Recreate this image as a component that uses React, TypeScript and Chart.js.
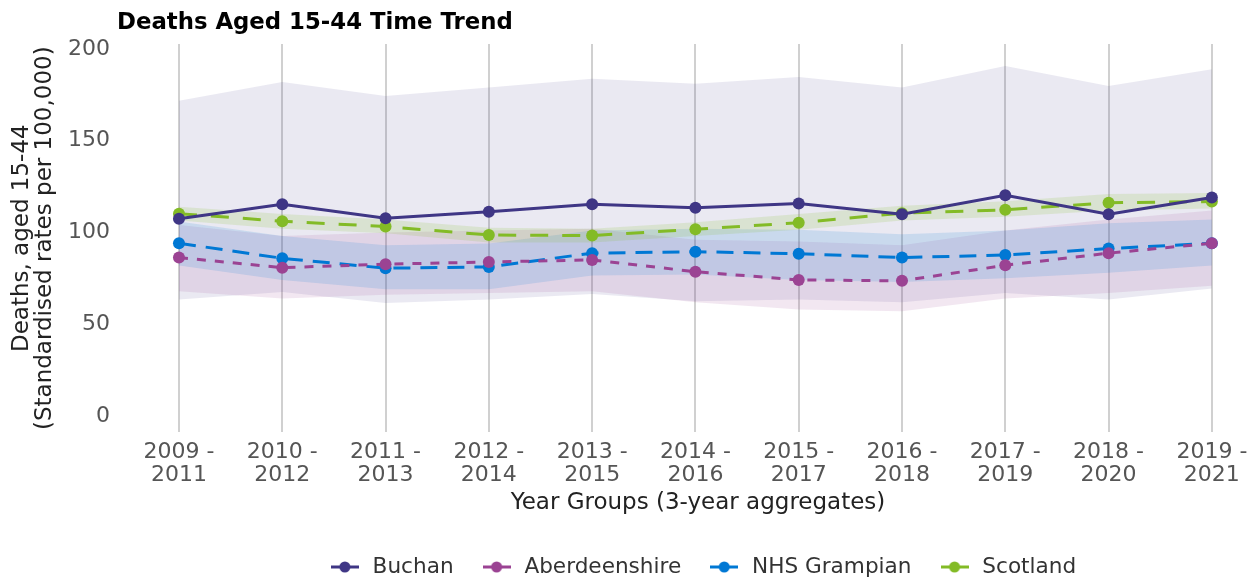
import React, { useEffect, useRef } from "react";
import { Chart, registerables } from "chart.js";

Chart.register(...registerables);

const chartTitle = "Deaths Aged 15-44 Time Trend";
const xTitle = "Year Groups (3-year aggregates)";
const yTitle = ["Deaths, aged 15-44", "(Standardised rates per 100,000)"];

const categories = [
  "2009 - 2011", "2010 - 2012", "2011 - 2013", "2012 - 2014", "2013 - 2015", "2014 - 2016",
  "2015 - 2017", "2016 - 2018", "2017 - 2019", "2018 - 2020", "2019 - 2021",
];

const yTicks = [0, 50, 100, 150, 200];

const buchan = [107.4, 115.4, 107.7, 111.3, 115.4, 113.5, 115.7, 109.9, 120.3, 109.9, 119.0];
const buchanUpper = [171.7, 182.0, 174.4, 179.0, 183.7, 181.0, 184.7, 179.0, 190.7, 179.8, 189.0];
const buchanLower = [63.5, 67.5, 61.5, 63.5, 66.5, 62.5, 63.5, 62.0, 67.0, 63.5, 69.5];

const aberdeenshire = [86.3, 80.8, 82.7, 83.9, 85.0, 78.6, 74.1, 73.6, 82.1, 88.7, 94.1];
const aberdeenshireUpper = [104, 98, 100, 101, 102, 96, 95, 93, 101, 107, 112];
const aberdeenshireLower = [68, 64, 66, 67, 68, 62, 58, 57, 64, 67, 71];

const nhsGrampian = [94.1, 85.9, 80.5, 81.2, 88.7, 89.5, 88.4, 86.3, 87.7, 91.2, 94.1];
const nhsGrampianUpper = [106, 98, 93, 94, 101, 102, 101.5, 99, 101, 105, 107];
const nhsGrampianLower = [82, 74, 69, 69, 76.5, 77, 74, 73, 75, 78, 82];

const scotland = [110.2, 106.1, 103.2, 98.6, 98.3, 101.7, 105.3, 110.5, 112.3, 116.2, 116.8];
const scotlandUpper = [114, 110, 107, 102.5, 102, 105.5, 110, 114.5, 117, 121, 121.5];
const scotlandLower = [106.5, 102, 99.5, 94.5, 94.5, 98, 101.5, 106.5, 108.5, 112, 113];

const seriesNames = ["Buchan", "Aberdeenshire", "NHS Grampian", "Scotland"];
const seriesColors = ["#3F3685", "#9B4393", "#0078D4", "#83BB26"];
const bandColors = [
  "rgba(63,54,133,0.11)",
  "rgba(155,67,147,0.13)",
  "rgba(0,120,212,0.14)",
  "rgba(131,187,38,0.16)",
];
const seriesDashes: number[][] = [[], [9, 9], [17, 10], [18, 14]];

const FONT = '"DejaVu Sans", sans-serif';

function toPoints(values: number[]) {
  return values.map((y, i) => ({ x: i, y }));
}

function makeMarker(color: string) {
  const c = document.createElement("canvas");
  c.width = 28;
  c.height = 14;
  const g = c.getContext("2d")!;
  g.strokeStyle = color;
  g.lineWidth = 3;
  g.beginPath();
  g.moveTo(0, 7);
  g.lineTo(28, 7);
  g.stroke();
  g.fillStyle = color;
  g.beginPath();
  g.arc(14, 7, 5.5, 0, Math.PI * 2);
  g.fill();
  return c;
}

export default function App() {
  const canvasRef = useRef<HTMLCanvasElement | null>(null);

  useEffect(() => {
    if (!canvasRef.current) return;
    Chart.defaults.font.family = FONT;

    const lines = [buchan, aberdeenshire, nhsGrampian, scotland];
    const uppers = [buchanUpper, aberdeenshireUpper, nhsGrampianUpper, scotlandUpper];
    const lowers = [buchanLower, aberdeenshireLower, nhsGrampianLower, scotlandLower];

    const lineSets = lines.map((vals, i) => ({
      label: seriesNames[i],
      data: toPoints(vals),
      borderColor: seriesColors[i],
      backgroundColor: seriesColors[i],
      borderWidth: 3,
      borderDash: seriesDashes[i],
      pointRadius: 6,
      pointHoverRadius: 6,
      pointBackgroundColor: seriesColors[i],
      pointBorderWidth: 0,
      fill: false,
      tension: 0,
    }));

    const bandSets: any[] = [];
    for (let i = 3; i >= 0; i--) {
      bandSets.push({
        label: seriesNames[i] + " upper",
        data: toPoints(uppers[i]),
        borderWidth: 0,
        borderColor: "rgba(0,0,0,0)",
        backgroundColor: bandColors[i],
        pointRadius: 0,
        pointHoverRadius: 0,
        fill: "+1",
        tension: 0,
      });
      bandSets.push({
        label: seriesNames[i] + " lower",
        data: toPoints(lowers[i]),
        borderWidth: 0,
        borderColor: "rgba(0,0,0,0)",
        backgroundColor: bandColors[i],
        pointRadius: 0,
        pointHoverRadius: 0,
        fill: false,
        tension: 0,
      });
    }

    const markers = seriesColors.map((c) => makeMarker(c));

    const titlePlugin = {
      id: "topTitle",
      afterDraw(chart: any) {
        const ctx = chart.ctx;
        ctx.save();
        ctx.font = `bold 22.8px ${FONT}`;
        ctx.fillStyle = "#000";
        ctx.textBaseline = "alphabetic";
        ctx.textAlign = "left";
        ctx.fillText(chartTitle, chart.chartArea.left, 29);
        ctx.restore();
      },
    };

    const legendPlacer = {
      id: "legendPlacer",
      afterLayout(chart: any) {
        const lg = chart.legend;
        if (!lg) return;
        const w = lg.right - lg.left;
        const h = lg.bottom - lg.top;
        const center = 702;
        lg.left = center - w / 2;
        lg.right = center + w / 2;
        lg.top = 567 - 10.8 - 26;
        lg.bottom = lg.top + h;
      },
    };

    const chart = new Chart(canvasRef.current, {
      type: "line",
      data: { datasets: [...lineSets, ...bandSets] as any },
      options: {
        responsive: false,
        animation: false,
        devicePixelRatio: 1,
        layout: { padding: { top: 44, right: 21, bottom: 4, left: 0 } },
        interaction: { mode: "nearest", intersect: true },
        scales: {
          x: {
            type: "linear",
            min: -0.6,
            max: 10.65,
            afterBuildTicks: (s: any) => {
              s.ticks = categories.map((_, i) => ({ value: i }));
            },
            afterFit: (s: any) => {
              s.height = 84;
            },
            ticks: {
              autoSkip: false,
              maxRotation: 0,
              padding: 8.5,
              color: "#555",
              font: { size: 22, family: FONT, lineHeight: 1.05 },
              callback: (v: any) => {
                const c = categories[Number(v)];
                if (!c) return "";
                const parts = c.split(" - ");
                return [parts[0] + " -", parts[1]];
              },
            },
            grid: { color: "#d0d0d0", lineWidth: 2, drawTicks: false },
            border: { display: false },
            title: {
              display: true,
              text: xTitle,
              color: "#222",
              font: { size: 23, family: FONT },
              padding: { top: 0, bottom: 0 },
            },
          },
          y: {
            min: -9,
            max: 202.7,
            afterBuildTicks: (s: any) => {
              s.ticks = yTicks.map((v) => ({ value: v }));
            },
            afterFit: (s: any) => {
              s.width = 117;
            },
            ticks: { padding: 7, color: "#555", font: { size: 22, family: FONT } },
            grid: { display: false, drawTicks: false },
            border: { display: false },
            title: {
              display: true,
              text: yTitle,
              color: "#222",
              font: { size: 23, family: FONT, lineHeight: 1.0 },
              padding: { top: 10.5, bottom: 0 },
            },
          },
        },
        plugins: {
          title: { display: false },
          tooltip: { enabled: false },
          legend: {
            display: true,
            position: "bottom",
            labels: {
              usePointStyle: true,
              pointStyleWidth: 34,
              padding: 26,
              color: "#333",
              font: { size: 21.6, family: FONT },
              generateLabels: () =>
                seriesNames.map((name, i) => ({
                  text: name,
                  fillStyle: seriesColors[i],
                  strokeStyle: seriesColors[i],
                  lineWidth: 0,
                  pointStyle: markers[i],
                  hidden: false,
                  datasetIndex: i,
                  fontColor: "#333",
                })) as any,
            },
          },
        },
      },
      plugins: [titlePlugin, legendPlacer],
    } as any);

    return () => chart.destroy();
  }, []);

  return (
    <div style={{ position: "fixed", left: 0, top: 0, width: 1249, height: 578, overflow: "hidden", background: "#fff" }}>
      <canvas ref={canvasRef} width={1300} height={578} style={{ width: 1300, height: 578, display: "block" }} />
    </div>
  );
}
